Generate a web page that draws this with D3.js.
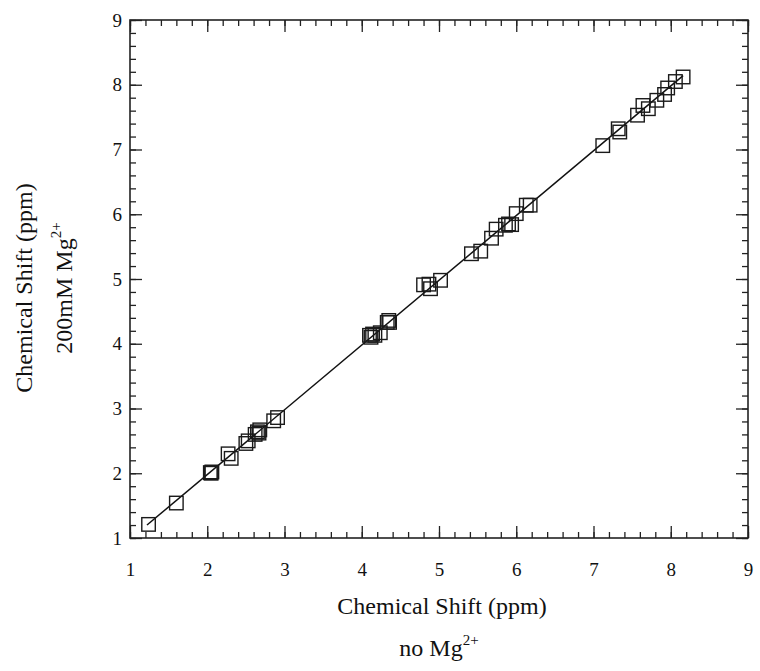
<!DOCTYPE html>
<html>
<head>
<meta charset="utf-8">
<script src="https://cdn.jsdelivr.net/npm/d3@7"></script>
<style>
  html, body { margin: 0; padding: 0; background: #fff; }
  svg { display: block; }
  text { font-family: "Liberation Serif", "Times New Roman", serif; fill: #111; }
</style>
</head>
<body>
<svg id="chart" width="760" height="671"></svg>
<script>
// Chemical shifts (ppm): without Mg2+ (x) and with 200 mM Mg2+ (y)
const shiftNoMg = [
  1.24, 1.60, 2.04, 2.06, 2.05, 2.27, 2.31, 2.50, 2.53, 2.62,
  2.65, 2.67, 2.68, 2.86, 2.91, 4.10, 4.12, 4.14, 4.17, 4.24,
  4.33, 4.36, 4.35, 4.80, 4.87, 4.89, 5.02, 5.42, 5.54, 5.68,
  5.74, 5.86, 5.90, 5.94, 6.00, 6.13, 6.18, 7.12, 7.32, 7.34,
  7.57, 7.64, 7.71, 7.82, 7.92, 7.96, 8.06, 8.16
];
const shiftMg200 = [
  1.21, 1.54, 2.01, 2.02, 2.00, 2.30, 2.23, 2.46, 2.50, 2.60,
  2.64, 2.62, 2.67, 2.81, 2.86, 4.13, 4.10, 4.15, 4.13, 4.17,
  4.33, 4.33, 4.36, 4.91, 4.92, 4.85, 4.98, 5.39, 5.43, 5.63,
  5.77, 5.83, 5.85, 5.84, 6.01, 6.14, 6.14, 7.06, 7.32, 7.27,
  7.53, 7.68, 7.63, 7.76, 7.85, 7.95, 8.05, 8.12
];
// Fitted line endpoints [x, y]
const fitLine = [[1.22, 1.20], [8.16, 8.14]];
const majorTicks = [1, 2, 3, 4, 5, 6, 7, 8, 9];
const minorTicks = d3.range(1, 9.001, 0.2).map(v => +v.toFixed(1));

const svg = d3.select("#chart");
const plot = { left: 130, right: 748, top: 20, bottom: 538 };

const x = d3.scaleLinear().domain([1, 9]).range([plot.left, plot.right]);
const y = d3.scaleLinear().domain([1, 9]).range([plot.bottom, plot.top]);

const majorLen = 12, minorLen = 6;

function styleAxis(g) {
  g.select(".domain").remove();
  g.selectAll(".tick line").attr("stroke", "#222").attr("stroke-width", 1.3);
  g.selectAll(".tick text").attr("font-size", 19).attr("fill", "#111")
    .style("font-family", '"Liberation Serif", "Times New Roman", serif');
}

// minor ticks on all four sides
svg.append("g").attr("transform", `translate(0,${plot.bottom})`)
  .call(d3.axisBottom(x).tickValues(minorTicks).tickSize(-minorLen).tickFormat(""))
  .call(styleAxis);
svg.append("g").attr("transform", `translate(0,${plot.top})`)
  .call(d3.axisTop(x).tickValues(minorTicks).tickSize(-minorLen).tickFormat(""))
  .call(styleAxis);
svg.append("g").attr("transform", `translate(${plot.left},0)`)
  .call(d3.axisLeft(y).tickValues(minorTicks).tickSize(-minorLen).tickFormat(""))
  .call(styleAxis);
svg.append("g").attr("transform", `translate(${plot.right},0)`)
  .call(d3.axisRight(y).tickValues(minorTicks).tickSize(-minorLen).tickFormat(""))
  .call(styleAxis);

// major ticks with labels on bottom and left
svg.append("g").attr("transform", `translate(0,${plot.bottom})`)
  .call(d3.axisBottom(x).tickValues(majorTicks).tickSize(-majorLen).tickPadding(25).tickFormat(d3.format("d")))
  .call(styleAxis);
svg.append("g").attr("transform", `translate(0,${plot.top})`)
  .call(d3.axisTop(x).tickValues(majorTicks).tickSize(-majorLen).tickFormat(""))
  .call(styleAxis);
svg.append("g").attr("transform", `translate(${plot.left},0)`)
  .call(d3.axisLeft(y).tickValues(majorTicks).tickSize(-majorLen).tickPadding(8).tickFormat(d3.format("d")))
  .call(styleAxis);
svg.append("g").attr("transform", `translate(${plot.right},0)`)
  .call(d3.axisRight(y).tickValues(majorTicks).tickSize(-majorLen).tickFormat(""))
  .call(styleAxis);

// plot frame
svg.append("rect")
  .attr("x", plot.left).attr("y", plot.top)
  .attr("width", plot.right - plot.left).attr("height", plot.bottom - plot.top)
  .attr("fill", "none").attr("stroke", "#222").attr("stroke-width", 1.6);

// fitted line
svg.append("line")
  .attr("x1", x(fitLine[0][0])).attr("y1", y(fitLine[0][1]))
  .attr("x2", x(fitLine[1][0])).attr("y2", y(fitLine[1][1]))
  .attr("stroke", "#111").attr("stroke-width", 1.5);

// open square markers
const sq = 13.5;
svg.append("g").selectAll("rect")
  .data(shiftNoMg.map((v, i) => [v, shiftMg200[i]]))
  .join("rect")
  .attr("x", d => x(d[0]) - sq / 2)
  .attr("y", d => y(d[1]) - sq / 2)
  .attr("width", sq).attr("height", sq)
  .attr("fill", "none").attr("stroke", "#1a1a1a").attr("stroke-width", 1.4);

// x-axis title
svg.append("text")
  .attr("x", 442).attr("y", 614)
  .attr("text-anchor", "middle").attr("font-size", 24)
  .text("Chemical Shift (ppm)");
const xt2 = svg.append("text")
  .attr("x", 439).attr("y", 656)
  .attr("text-anchor", "middle").attr("font-size", 24);
xt2.append("tspan").text("no Mg");
xt2.append("tspan").attr("font-size", 15).attr("dy", -11).text("2+");

// y-axis titles
svg.append("text")
  .attr("transform", "translate(32,288) rotate(-90)")
  .attr("text-anchor", "middle").attr("font-size", 24)
  .text("Chemical Shift (ppm)");
const yt2 = svg.append("text")
  .attr("transform", "translate(72,288) rotate(-90)")
  .attr("text-anchor", "middle").attr("font-size", 24);
yt2.append("tspan").text("200mM Mg");
yt2.append("tspan").attr("font-size", 15).attr("dy", -11).text("2+");
</script>
</body>
</html>
